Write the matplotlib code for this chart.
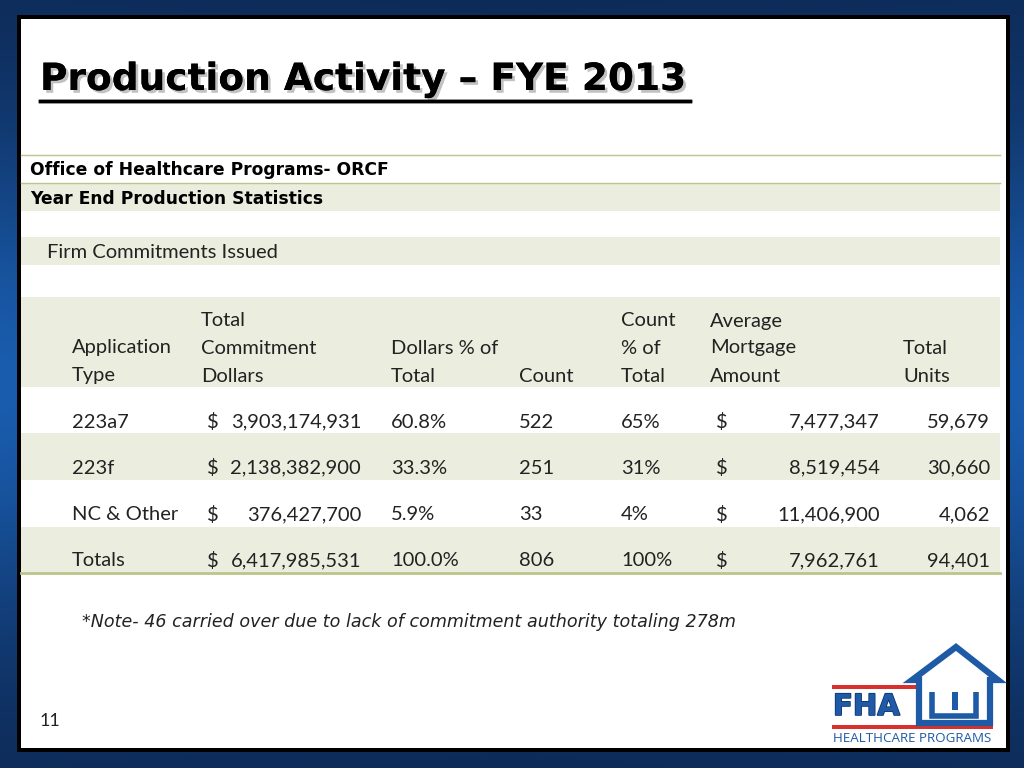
import numpy as np
import matplotlib
matplotlib.use('Agg')
import matplotlib.pyplot as plt
from matplotlib.patches import Rectangle, Polygon
import matplotlib.patheffects as pe

# table data
app_types = ['223a7', '223f', 'NC & Other', 'Totals']
commit_dollars = [3903174931, 2138382900, 376427700, 6417985531]
dollar_pct = [60.8, 33.3, 5.9, 100.0]
counts = [522, 251, 33, 806]
count_pct = [65, 31, 4, 100]
avg_mortgage = [7477347, 8519454, 11406900, 7962761]
total_units = [59679, 30660, 4062, 94401]

headers = [['Application', 'Type'], ['Total', 'Commitment', 'Dollars'], ['Dollars % of', 'Total'],
           ['Count'], ['Count', '% of', 'Total'], ['Average', 'Mortgage', 'Amount'], ['Total', 'Units']]

title = 'Production Activity \u2013 FYE 2013'
note = '*Note- 46 carried over due to lack of commitment authority totaling 278m'

BODY = 'Lato'
FS = 14.5
GREEN = '#ebeedf'
LINE = '#b9c58a'
TXT = '#222222'

fig = plt.figure(figsize=(10.24, 7.68), dpi=100)
ax = fig.add_axes([0, 0, 1, 1])
ax.set_xlim(0, 1024)
ax.set_ylim(768, 0)
ax.axis('off')

# blue background gradient
yy = np.linspace(0, 1, 200)[:, None]
xx = np.linspace(0, 1, 200)[None, :]
t = np.exp(-((yy - 0.5) / 0.32) ** 2) * (0.6 + 0.4 * np.abs(xx - 0.5) * 2)
dark = np.array([0.05, 0.16, 0.33])
light = np.array([0.10, 0.36, 0.68])
bg = dark + (light - dark) * t[..., None]
ax.imshow(bg, extent=[0, 1024, 768, 0], aspect='auto', zorder=0)

# slide panel
ax.add_patch(Rectangle((17, 15), 993, 737, facecolor='black', zorder=1))
ax.add_patch(Rectangle((21, 19), 985, 729, facecolor='white', zorder=2))

# title with shadow and underline
shadow = [pe.withSimplePatchShadow(offset=(2, -2), shadow_rgbFace='#999999', alpha=0.6), pe.Normal()]
ax.text(40, 80, title, fontsize=27, fontweight='bold', family='DejaVu Sans',
        va='center', ha='left', color='black', zorder=5, path_effects=shadow)
ax.plot([40, 690], [101, 101], color='black', lw=2.5, zorder=5, path_effects=shadow)

# table bands
for y0, y1 in [(183, 211), (237, 265), (297, 387), (433, 480), (527, 573)]:
    ax.add_patch(Rectangle((21, y0), 979, y1 - y0, facecolor=GREEN, zorder=3))
for y, lw in [(155, 1.0), (183, 1.0), (573, 2.0)]:
    ax.plot([21, 1000], [y, y], color=LINE, lw=lw, zorder=4)

ax.text(30, 170, 'Office of Healthcare Programs- ORCF', fontsize=12.3, fontweight='bold',
        family='DejaVu Sans', va='center', zorder=5)
ax.text(30, 199, 'Year End Production Statistics', fontsize=12.3, fontweight='bold',
        family='DejaVu Sans', va='center', zorder=5)
ax.text(47, 253, 'Firm Commitments Issued', fontsize=FS, family=BODY, va='center',
        color=TXT, zorder=5)

# header, bottom-aligned lines
col_x = [72, 201, 391, 519, 621, 710, 903]
line_y = [321, 348, 376]
for x, h in zip(col_x, headers):
    for j, s in enumerate(h):
        ax.text(x, line_y[3 - len(h) + j], s, fontsize=FS, family=BODY, va='center',
                ha='left', color=TXT, zorder=5)

# rows
row_y = [422, 468, 515, 561]
for i, y in enumerate(row_y):
    kw = dict(fontsize=FS, family=BODY, va='center', color=TXT, zorder=5)
    ax.text(72, y, app_types[i], ha='left', **kw)
    ax.text(207, y, '$', ha='left', **kw)
    ax.text(361, y, f'{commit_dollars[i]:,}', ha='right', **kw)
    ax.text(391, y, f'{dollar_pct[i]:.1f}%', ha='left', **kw)
    ax.text(519, y, f'{counts[i]}', ha='left', **kw)
    ax.text(621, y, f'{count_pct[i]}%', ha='left', **kw)
    ax.text(716, y, '$', ha='left', **kw)
    ax.text(880, y, f'{avg_mortgage[i]:,}', ha='right', **kw)
    ax.text(990, y, f'{total_units[i]:,}', ha='right', **kw)

ax.text(82, 622, note, fontsize=12.6, family='DejaVu Sans', style='italic',
        va='center', color=TXT, zorder=5)
ax.text(40, 721, '11', fontsize=13, family=BODY, va='center', color=TXT, zorder=5)

# FHA logo
BLUE = '#1f5aa6'
RED = '#d8302a'
ax.add_patch(Rectangle((832, 685), 84, 4, facecolor=RED, zorder=5))
ax.add_patch(Rectangle((832, 725), 161, 4, facecolor=RED, zorder=5))
ax.text(833, 707, 'FHA', fontsize=21, fontweight='heavy', family='DejaVu Sans',
        color=BLUE, va='center', ha='left', zorder=6,
        path_effects=[pe.withStroke(linewidth=1.2, foreground='#0d3570')])
house = Polygon([(912, 680), (956, 647), (998, 680), (990, 680), (990, 723),
                 (919, 723), (919, 680)], closed=True, facecolor='none',
                edgecolor=BLUE, lw=4.5, joinstyle='miter', zorder=6)
ax.add_patch(house)
ax.add_patch(Polygon([(932, 692), (932, 716), (976, 716), (976, 692)], closed=False,
                     facecolor='none', edgecolor=BLUE, lw=4, zorder=6))
ax.add_patch(Rectangle((952, 692), 6, 18, facecolor=BLUE, zorder=6))
ax.text(912, 738, 'HEALTHCARE PROGRAMS', fontsize=9.6, family='Open Sans', color=BLUE,
        va='center', ha='center', zorder=6)

fig.savefig('out.png', dpi=100)
